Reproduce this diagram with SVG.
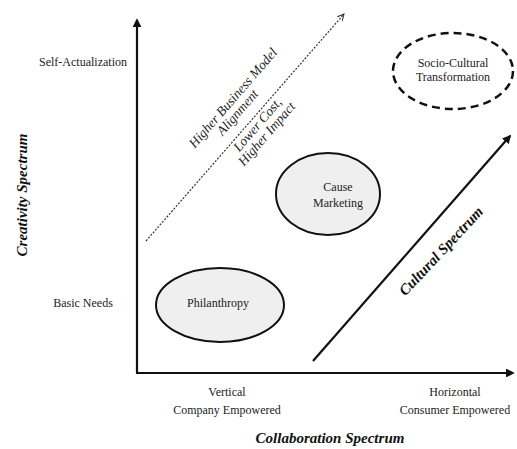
<svg xmlns="http://www.w3.org/2000/svg" width="517" height="449" viewBox="0 0 517 449">
<defs>
<style>
.t{font-family:"Liberation Serif","Times New Roman",serif;font-size:12px;fill:#222;text-anchor:middle}
.it{font-family:"Liberation Serif","Times New Roman",serif;font-size:13.5px;font-style:italic;fill:#222;text-anchor:middle}
.bt{font-family:"Liberation Serif","Times New Roman",serif;font-size:15px;font-style:italic;font-weight:bold;fill:#111;text-anchor:middle}
.ax{stroke:#111;stroke-width:2.2;fill:none}
.node{fill:#efefef;stroke:#111;stroke-width:2}
</style>
<marker id="ah" viewBox="0 0 10 10" refX="8" refY="5" markerWidth="4" markerHeight="4" orient="auto" markerUnits="strokeWidth">
<path d="M0,0 L10,5 L0,10 z" fill="#111"/>
</marker>
<marker id="ahd" viewBox="0 0 10 10" refX="9" refY="5" markerWidth="8" markerHeight="8" orient="auto" markerUnits="userSpaceOnUse">
<path d="M1,1 L9,5 L1,9" fill="none" stroke="#222" stroke-width="1.2"/>
</marker>
</defs>
<rect width="517" height="449" fill="#fff"/>
<g id="connectors">
<line class="ax" x1="137" y1="373" x2="137" y2="20" marker-end="url(#ah)"/>
<line class="ax" x1="136" y1="373" x2="513" y2="373" marker-end="url(#ah)"/>
<line x1="146" y1="241" x2="344" y2="14" stroke="#333" stroke-width="1.2" stroke-dasharray="2,1.5" marker-end="url(#ahd)"/>
<line class="ax" x1="313" y1="361" x2="510" y2="136" marker-end="url(#ah)"/>
</g>
<g id="axis-labels">
<text class="t" x="83" y="66">Self-Actualization</text>
<text class="t" x="83" y="307">Basic Needs</text>
<text class="bt" transform="translate(27,195) rotate(-90)">Creativity Spectrum</text>
<text class="t" x="227" y="396">Vertical</text>
<text class="t" x="227" y="414">Company Empowered</text>
<text class="t" x="455" y="396">Horizontal</text>
<text class="t" x="455" y="414">Consumer Empowered</text>
<text class="bt" x="330" y="443">Collaboration Spectrum</text>
<text class="bt" transform="translate(441,251) rotate(-47)" dy="5">Cultural Spectrum</text>
</g>
<g id="dashed-labels">
<text class="it" transform="translate(233.3,98.2) rotate(-49)" dy="4">Higher Business Model</text>
<text class="it" transform="translate(237.8,112.7) rotate(-49)" dy="4">Alignment</text>
<text class="it" transform="translate(257.8,124.9) rotate(-49)" dy="4">Lower Cost,</text>
<text class="it" transform="translate(266.9,134.2) rotate(-49)" dy="4">Higher Impact</text>
</g>
<g id="philanthropy">
<ellipse class="node" cx="220" cy="305" rx="64" ry="37"/>
<text class="t" x="218" y="307">Philanthropy</text>
</g>
<g id="cause-marketing">
<ellipse class="node" cx="328" cy="194" rx="52" ry="41"/>
<text class="t" x="338" y="191">Cause</text>
<text class="t" x="338" y="207">Marketing</text>
</g>
<g id="socio-cultural">
<ellipse cx="453" cy="71" rx="60" ry="38" fill="#fff" stroke="#111" stroke-width="2.5" stroke-dasharray="8,5"/>
<text class="t" x="453" y="67">Socio-Cultural</text>
<text class="t" x="453" y="81">Transformation</text>
</g>
</svg>
